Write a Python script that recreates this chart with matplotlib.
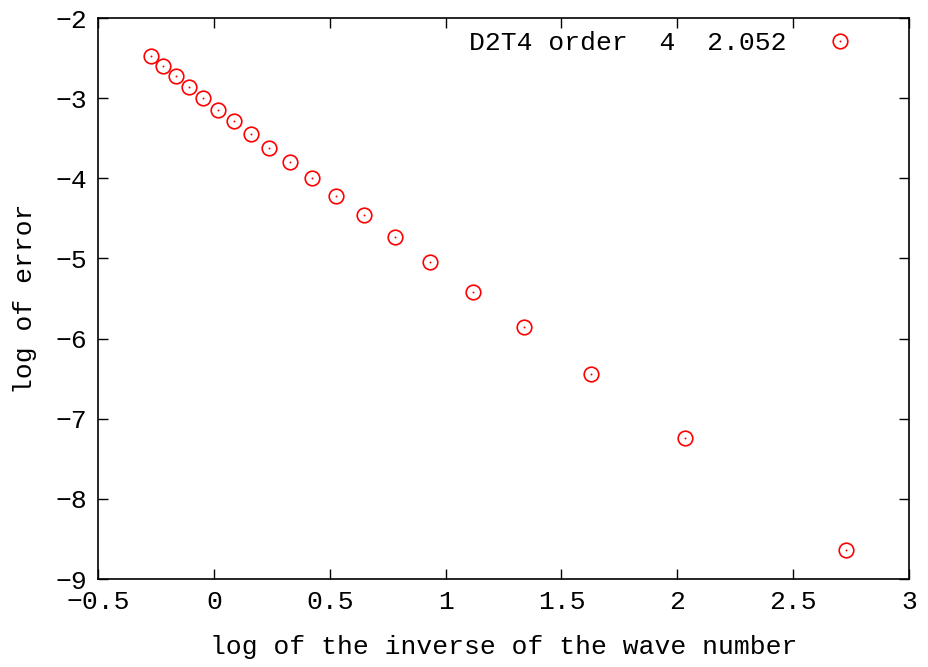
import matplotlib
matplotlib.use("Agg")
import matplotlib.pyplot as plt
from matplotlib.lines import Line2D
from matplotlib.legend_handler import HandlerTuple

# log of inverse wave number vs log of error
log_inv_k = [-0.271, -0.219, -0.163, -0.107, -0.047, 0.018, 0.087, 0.160,
             0.238, 0.329, 0.424, 0.527, 0.648, 0.782, 0.933, 1.118,
             1.339, 1.628, 2.033, 2.728]
log_err = [-2.474, -2.599, -2.724, -2.861, -2.998, -3.148, -3.285, -3.447,
           -3.622, -3.797, -3.996, -4.221, -4.458, -4.733, -5.045, -5.419,
           -5.856, -6.442, -7.241, -8.638]
series_label = "D2T4 order  4  2.052"

xticks = [-0.5, 0, 0.5, 1, 1.5, 2, 2.5, 3]
xticklabels = ["\u22120.5", "0", "0.5", "1", "1.5", "2", "2.5", "3"]
yticks = [-2, -3, -4, -5, -6, -7, -8, -9]
yticklabels = ["\u22122", "\u22123", "\u22124", "\u22125", "\u22126",
               "\u22127", "\u22128", "\u22129"]

plt.rcParams["font.family"] = ["Liberation Mono", "DejaVu Sans Mono"]
fs = 19

fig = plt.figure(figsize=(9.29, 6.67), dpi=100)
ax = fig.add_axes([0.1055, 0.1319, 0.8730, 0.8411])

red = "#ff0000"
ax.plot(log_inv_k, log_err, ls="none", marker="o", ms=10.5, mfc="none",
        mec=red, mew=1.2)
ax.plot(log_inv_k, log_err, ls="none", marker="o", ms=1.4, mfc=red,
        mec="none")

ax.set_xlim(-0.5, 3)
ax.set_ylim(-9, -2)
ax.set_xticks(xticks)
ax.set_xticklabels(xticklabels)
ax.set_yticks(yticks)
ax.set_yticklabels(yticklabels)
ax.tick_params(direction="in", length=7, width=1, top=True, right=True,
               labelsize=fs, pad=8, colors="black")
for sp in ax.spines.values():
    sp.set_linewidth(1.2)

ax.set_xlabel("log of the inverse of the wave number", fontsize=fs, labelpad=15)
ax.set_ylabel("log of error", fontsize=fs, labelpad=13)

h_circle = Line2D([], [], ls="none", marker="o", ms=10.5, mfc="none",
                  mec=red, mew=1.2)
h_dot = Line2D([], [], ls="none", marker="o", ms=1.4, mfc=red, mec="none")
ax.legend([(h_circle, h_dot)], [series_label],
          handler_map={tuple: HandlerTuple(ndivide=1, pad=0)},
          loc="upper right", bbox_to_anchor=(0.964, 1.0),
          frameon=False, markerfirst=False,
          fontsize=fs, handlelength=2.0, handletextpad=1.05,
          borderaxespad=0.2, borderpad=0.3)

fig.savefig("out.png", dpi=100)
